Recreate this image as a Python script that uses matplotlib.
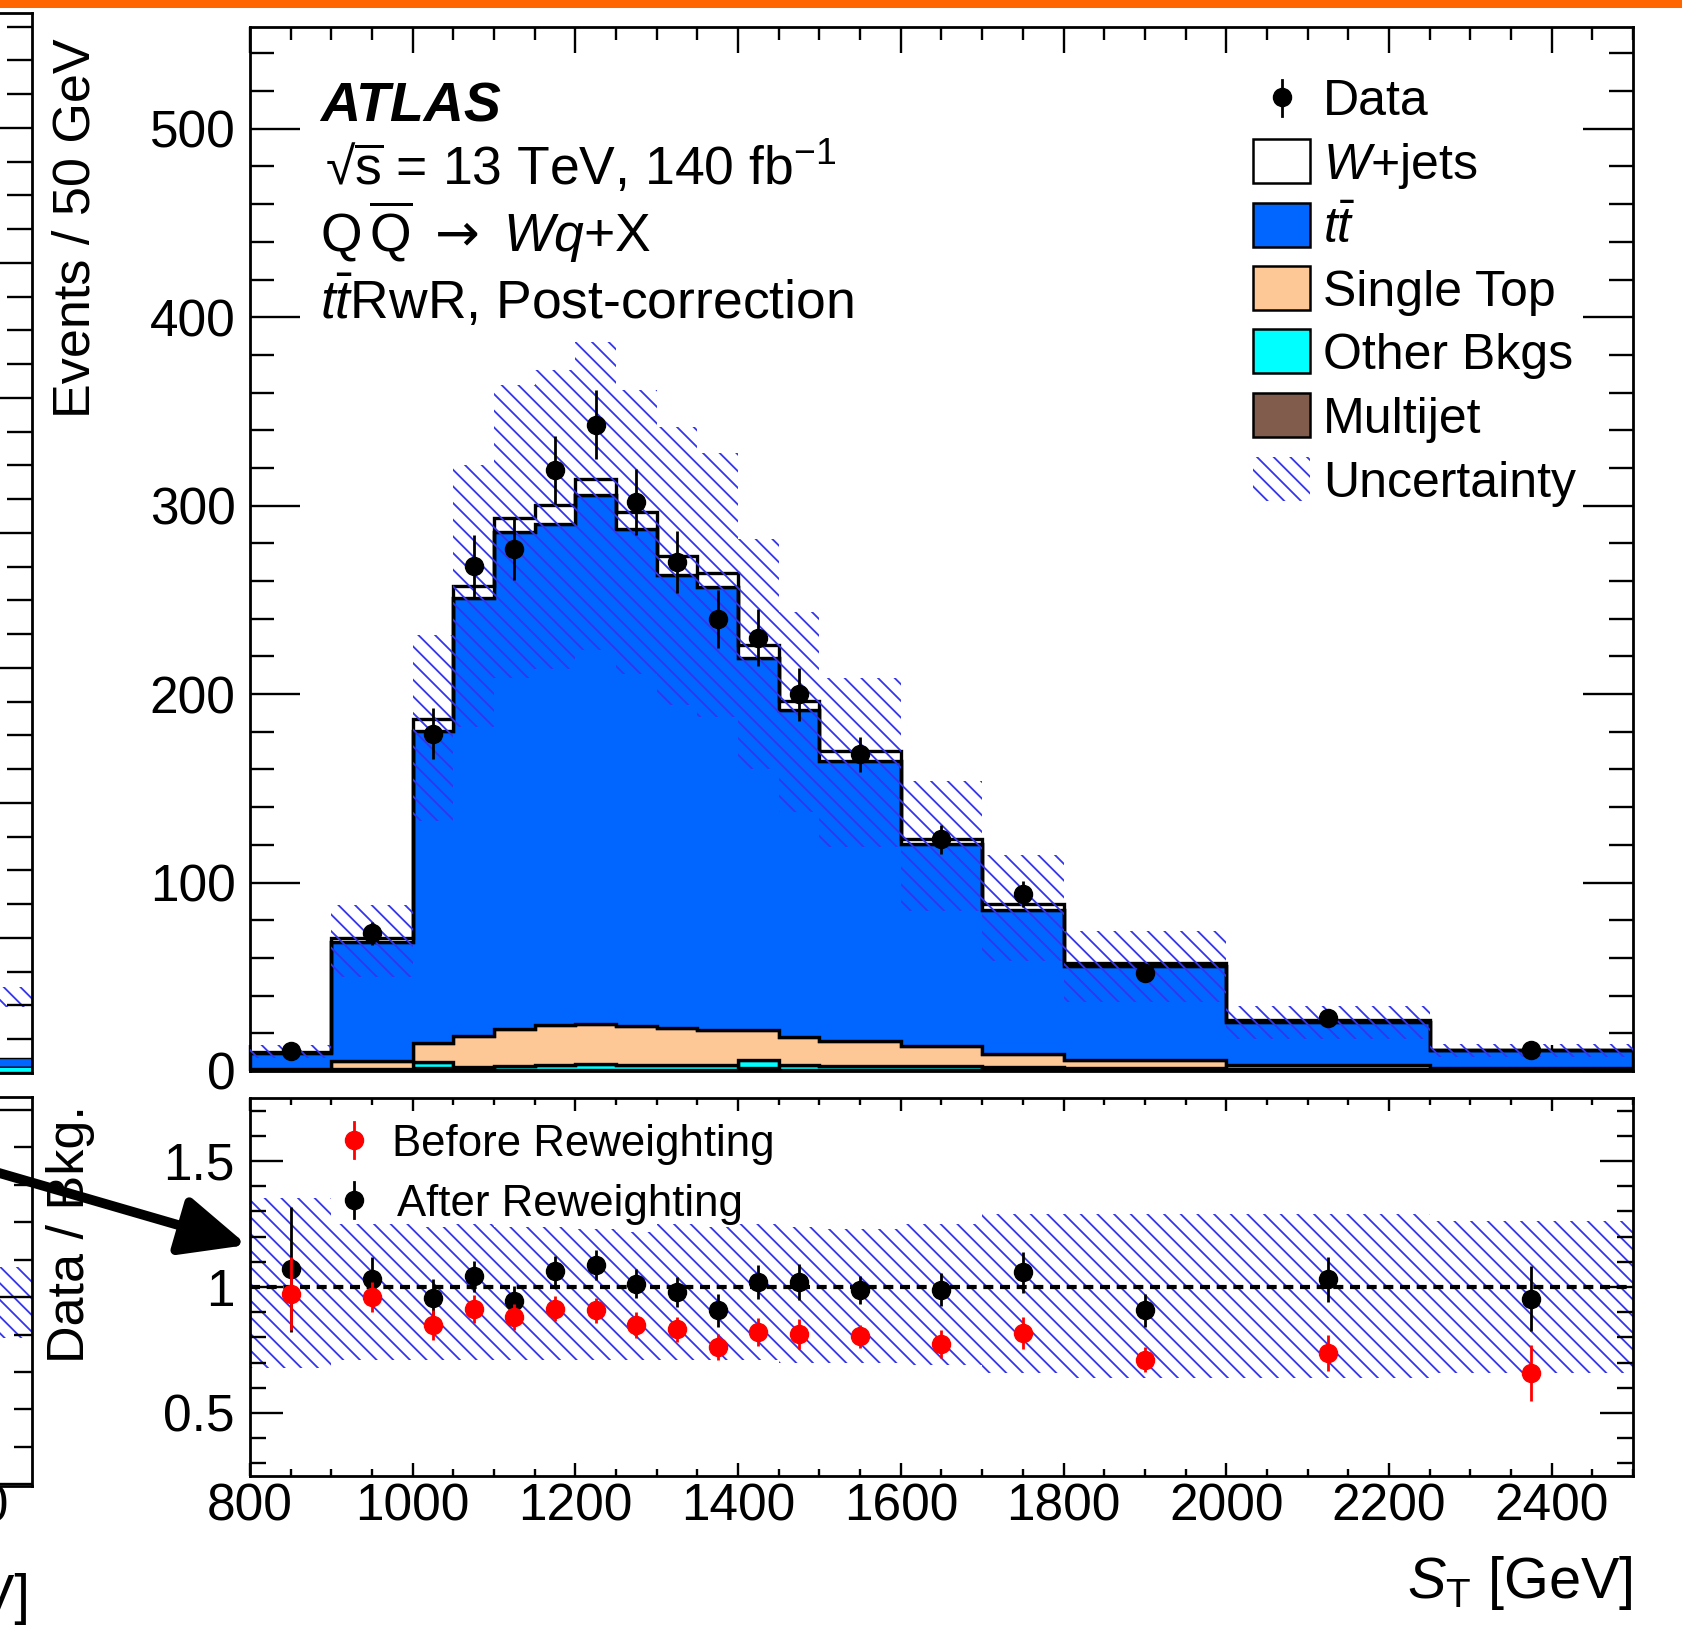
import numpy as np
import matplotlib
matplotlib.use("Agg")
import matplotlib.pyplot as plt
from matplotlib.patches import Rectangle, FancyArrowPatch
from matplotlib.lines import Line2D
from matplotlib.ticker import MultipleLocator, FixedLocator, NullLocator

# --- data ---
bin_edges = [800, 900, 1000, 1050, 1100, 1150, 1200, 1250, 1300, 1350, 1400,
             1450, 1500, 1600, 1700, 1800, 2000, 2250, 2500]
bin_centers = [850, 950, 1025, 1075, 1125, 1175, 1225, 1275, 1325, 1375, 1425,
               1475, 1550, 1650, 1750, 1900, 2125, 2375]

# stacked backgrounds (events / 50 GeV), bottom to top
multijet = [0.2, 0.3, 1.5, 0.5, 0.5, 0.5, 0.5, 0.5, 0.5, 0.5, 1.5, 0.5, 0.5, 0.4, 0.3, 0.2, 0.1, 0.1]
other_bkgs = [0.3, 0.8, 3.5, 1.5, 2.0, 2.8, 3.2, 2.8, 2.8, 2.5, 4.5, 2.5, 2.0, 2.2, 1.8, 1.5, 0.8, 0.4]
single_top = [0.3, 4.2, 9.6, 16.5, 19.9, 21.3, 21.5, 20.5, 19.6, 19.0, 16.0, 15.2, 13.5, 10.6, 7.1, 4.3, 2.5, 1.1]
ttbar = [8.5, 63.2, 165.7, 232.5, 263.6, 265.9, 280.2, 264.0, 240.4, 235.0, 197.4, 173.2, 148.3, 107.0, 76.1, 49.6, 22.6, 9.3]
wjets = [0.7, 2.0, 6.4, 6.4, 7.7, 9.7, 9.0, 8.6, 9.9, 7.4, 6.4, 5.0, 5.3, 2.8, 3.4, 1.9, 0.8, 0.5]

data = [10.7, 73, 179, 268, 277, 319, 343, 302, 270, 240, 230, 200, 168, 123, 94, 52, 28, 11]
data_err = [2.3, 6.0, 13.4, 16.4, 16.6, 17.9, 18.5, 17.4, 16.4, 15.5, 15.2, 14.1, 9.2, 7.8, 6.9, 3.6, 2.4, 1.5]

# relative uncertainty band (ratio panel edges)
unc_up = [1.355, 1.25, 1.24, 1.25, 1.24, 1.24, 1.23, 1.22, 1.25, 1.24, 1.25, 1.24, 1.23, 1.25, 1.29, 1.29, 1.29, 1.26]
unc_down = [0.68, 0.71, 0.71, 0.71, 0.71, 0.71, 0.71, 0.71, 0.71, 0.71, 0.71, 0.70, 0.70, 0.69, 0.66, 0.64, 0.64, 0.66]

ratio_after = [1.07, 1.033, 0.957, 1.042, 0.945, 1.062, 1.088, 1.013, 0.98, 0.907, 1.02, 1.02, 0.987, 0.99, 1.058, 0.907, 1.03, 0.954]
ratio_after_err = [0.247, 0.085, 0.075, 0.062, 0.058, 0.06, 0.06, 0.058, 0.06, 0.065, 0.067, 0.072, 0.055, 0.065, 0.08, 0.065, 0.09, 0.13]
ratio_before = [0.974, 0.961, 0.849, 0.914, 0.882, 0.914, 0.908, 0.849, 0.832, 0.762, 0.821, 0.815, 0.804, 0.775, 0.817, 0.712, 0.738, 0.659]
ratio_before_err = [0.145, 0.06, 0.06, 0.055, 0.052, 0.05, 0.05, 0.05, 0.05, 0.05, 0.055, 0.06, 0.045, 0.055, 0.065, 0.05, 0.07, 0.11]

layer_names = ["Multijet", "Other Bkgs", "Single Top", r"$t\bar{t}$", r"$W$+jets"]
layer_colors = ["#815b4b", "#00ffff", "#fec796", "#0066ff", "#ffffff"]
hatch_color = "#3434ee"
HATCH = "\\\\"

# --- style ---
plt.rcParams["font.family"] = ["Liberation Sans", "DejaVu Sans"]
plt.rcParams["mathtext.fontset"] = "custom"
plt.rcParams["mathtext.rm"] = "Liberation Sans"
plt.rcParams["mathtext.it"] = "Liberation Sans:italic"
plt.rcParams["mathtext.bf"] = "Liberation Sans:bold"
plt.rcParams["mathtext.sf"] = "DejaVu Sans"
plt.rcParams["hatch.linewidth"] = 1.3
plt.rcParams["axes.linewidth"] = 2.0

W, H = 1683, 1630


def fx(px):
    return px / W


def fy(py):
    return 1 - py / H


fig = plt.figure(figsize=(W / 100, H / 100), dpi=100)

# orange slide bar at the very top
fig.add_artist(Rectangle((0, fy(8)), 1, 8 / H, transform=fig.transFigure,
                         facecolor="#ff6600", edgecolor="none"))

ax = fig.add_axes([fx(250), fy(1071), (1633 - 250) / W, (1071 - 27) / H])
rax = fig.add_axes([fx(250), fy(1476), (1633 - 250) / W, (1476 - 1098) / H])

# stacked histogram
layers = [multijet, other_bkgs, single_top, ttbar, wjets]
base = np.zeros(len(bin_centers))
for vals, col in zip(layers, layer_colors):
    top = base + np.array(vals)
    ax.stairs(top, bin_edges, baseline=base, fill=True, facecolor=col,
              edgecolor="black", linewidth=2.4, zorder=2.6)
    base = top
total_mc = base

ax.stairs(total_mc * np.array(unc_up), bin_edges, baseline=total_mc * np.array(unc_down),
          fill=True, facecolor="none", edgecolor=hatch_color, hatch=HATCH, linewidth=0, zorder=3)

ax.errorbar(bin_centers, data, yerr=data_err, fmt="o", color="black", markersize=13,
            elinewidth=2, capsize=0, zorder=5)

ax.set_xlim(800, 2500)
ax.set_ylim(0, 554)
ax.xaxis.set_major_locator(MultipleLocator(200))
ax.xaxis.set_minor_locator(MultipleLocator(50))
ax.yaxis.set_major_locator(MultipleLocator(100))
ax.yaxis.set_minor_locator(MultipleLocator(20))
ax.tick_params(which="both", direction="in", top=True, right=True, labelbottom=False,
               width=1.7, labelsize=37, pad=10.5)
ax.tick_params(axis="y", which="major", length=36)
ax.tick_params(axis="y", which="minor", length=17.3)
ax.tick_params(axis="x", which="major", length=18.7)
ax.tick_params(axis="x", which="minor", length=9.4)

# ratio panel
rax.stairs(unc_up, bin_edges, baseline=unc_down, fill=True, facecolor="none",
           edgecolor=hatch_color, hatch=HATCH, linewidth=0, zorder=1)
rax.axhline(1.0, color="black", linestyle=(0, (2.4, 1.6)), linewidth=3, zorder=2)
rax.errorbar(bin_centers, ratio_after, yerr=ratio_after_err, fmt="o", color="black",
             markersize=13, elinewidth=2, capsize=0, zorder=4)
rax.errorbar(bin_centers, ratio_before, yerr=ratio_before_err, fmt="o", color="#ff0000",
             markersize=13, elinewidth=2, capsize=0, zorder=5)
rax.set_xlim(800, 2500)
rax.set_ylim(0.25, 1.75)
rax.xaxis.set_major_locator(MultipleLocator(200))
rax.xaxis.set_minor_locator(MultipleLocator(50))
rax.yaxis.set_major_locator(FixedLocator([0.5, 1.0, 1.5]))
rax.set_yticklabels(["0.5", "1", "1.5"])
rax.yaxis.set_minor_locator(MultipleLocator(0.1))
rax.tick_params(which="both", direction="in", top=True, right=True, width=1.7, labelsize=37)
rax.tick_params(axis="y", which="major", length=23.8, pad=11)
rax.tick_params(axis="y", which="minor", length=11.5)
rax.tick_params(axis="x", which="major", length=9.4, pad=5)
rax.tick_params(axis="x", which="minor", length=4.8)

# axis titles
fig.text(fx(76), fy(38), "Events / 50 GeV", rotation=90, ha="center", va="top", fontsize=37.5)
fig.text(fx(71), fy(1105), "Data / Bkg.", rotation=90, ha="center", va="top", fontsize=37.5)
fig.text(fx(1633), fy(1598), r"$S_{\mathrm{T}}$ [GeV]", ha="right", va="baseline", fontsize=41.5)

# ATLAS label block
fig.text(fx(320), fy(121), "ATLAS", fontsize=40, fontweight="bold", fontstyle="italic",
         va="baseline")
fig.text(fx(325), fy(185), r"√$\overline{\mathrm{s}}$ = 13 TeV, 140 fb$^{\mathrm{-1}}$",
         fontsize=38.5, va="baseline")
fig.text(fx(320), fy(252), r"$\mathrm{Q}\,\overline{\mathrm{Q}}\ \mathsf{\rightarrow}\ Wq$+X",
         fontsize=38.5, va="baseline")
fig.text(fx(320), fy(319), r"$t\bar{t}$RwR, Post-correction", fontsize=38.5, va="baseline")

# main legend (drawn by hand to match row spacing)
row_y = [97, 161, 225, 288, 351, 415, 479]
fig.add_artist(Line2D([fx(1282), fx(1282)], [fy(80), fy(116)], color="black", lw=2,
                      transform=fig.transFigure))
fig.add_artist(Line2D([fx(1282)], [fy(97)], marker="o", color="black", markersize=13,
                      transform=fig.transFigure))
fig.text(fx(1323), fy(row_y[0] + 18), "Data", fontsize=36, va="baseline")
legend_entries = list(zip(layer_names[::-1], layer_colors[::-1]))
for (name, col), yc in zip(legend_entries, row_y[1:6]):
    fig.add_artist(Rectangle((fx(1253), fy(yc + 22)), 57 / W, 44 / H, transform=fig.transFigure,
                             facecolor=col, edgecolor="black", linewidth=1.8))
    fig.text(fx(1323), fy(yc + 18), name, fontsize=36, va="baseline")
fig.add_artist(Rectangle((fx(1253), fy(row_y[6] + 22)), 57 / W, 44 / H, transform=fig.transFigure,
                         facecolor="none", edgecolor=hatch_color, hatch=HATCH, linewidth=0))
fig.text(fx(1323), fy(row_y[6] + 18), "Uncertainty", fontsize=36, va="baseline")

# ratio legend
for yc, col, txt, tx in [(1140, "#ff0000", "Before Reweighting", 392),
                         (1200, "black", "After Reweighting", 397)]:
    fig.add_artist(Line2D([fx(354), fx(354)], [fy(yc - 18), fy(yc + 18)], color=col, lw=2,
                          transform=fig.transFigure))
    fig.add_artist(Line2D([fx(354)], [fy(yc)], marker="o", color=col, markersize=13,
                          transform=fig.transFigure))
    fig.text(fx(tx), fy(yc + 16), txt, fontsize=31.5, va="baseline")

# neighbouring plot, cut off at the left edge of the slide
lax = fig.add_axes([fx(-400), fy(1073), 432 / W, (1073 - 13) / H])
lax.set_xlim(0, 1)
lax.set_ylim(0, 785)
lax.stairs([5], [0.5, 1.0], baseline=0, fill=True, facecolor="#00ffff", edgecolor="black", lw=2)
lax.stairs([11], [0.5, 1.0], baseline=5, fill=True, facecolor="#0066ff", edgecolor="black", lw=1)
lax.stairs([64], [0.5, 1.0], baseline=49, fill=True, facecolor="none", edgecolor=hatch_color,
           hatch=HATCH, lw=0)
lax.xaxis.set_major_locator(NullLocator())
lax.yaxis.set_major_locator(MultipleLocator(100))
lax.yaxis.set_minor_locator(MultipleLocator(25))
lax.tick_params(which="both", direction="in", left=False, right=True, labelleft=False, width=1.7)
lax.tick_params(which="major", length=40)
lax.tick_params(which="minor", length=18)

lrax = fig.add_axes([fx(-400), fy(1486), 432 / W, (1486 - 1097) / H])
lrax.set_xlim(0, 1)
lrax.set_ylim(-0.05, 10.35)
lrax.stairs([5.8], [0.5, 1.0], baseline=3.9, fill=True, facecolor="none", edgecolor=hatch_color,
            hatch=HATCH, lw=0)
lrax.xaxis.set_major_locator(NullLocator())
lrax.yaxis.set_major_locator(MultipleLocator(5))
lrax.yaxis.set_minor_locator(MultipleLocator(1))
lrax.tick_params(which="both", direction="in", left=False, right=True, labelleft=False, width=1.7)
lrax.tick_params(which="major", length=26)
lrax.tick_params(which="minor", length=13)

# tick label and axis title of the neighbouring plot, clipped by the slide edge
fig.text(fx(9), fy(1508), "2500", ha="right", va="center", fontsize=37)
fig.text(fx(30), fy(1613), "[GeV]", ha="right", va="baseline", fontsize=40)

# arrow pointing at the ratio band
fig.add_artist(FancyArrowPatch((fx(-80), fy(1150)), (fx(247), fy(1245)), transform=fig.transFigure,
                               arrowstyle="-|>,head_length=1.0,head_width=0.45", mutation_scale=40,
                               color="black", lw=7, shrinkA=0, shrinkB=0))

fig.savefig("out.png", dpi=100)
